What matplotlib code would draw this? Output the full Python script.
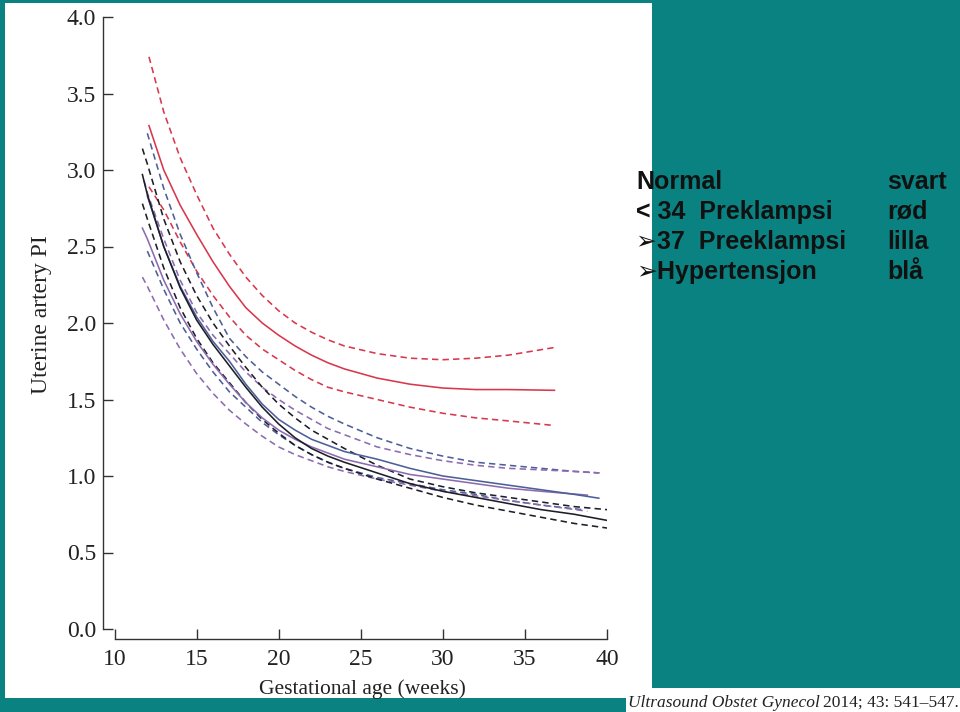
import matplotlib
matplotlib.use('Agg')
import matplotlib.pyplot as plt
from matplotlib.patches import Rectangle

# Normal (black)
normal_wk = [11.7, 12, 13, 14, 15, 16, 17, 18, 19, 20, 21, 22, 23, 24, 26, 28, 30, 32, 34, 36, 38, 40]
normal_mid = [2.97, 2.84, 2.50, 2.23, 2.02, 1.86, 1.72, 1.58, 1.45, 1.34, 1.25, 1.18, 1.13, 1.09, 1.02, 0.95, 0.90, 0.86, 0.82, 0.78, 0.75, 0.71]
normal_hi = [3.14, 3.04, 2.68, 2.40, 2.18, 2.00, 1.85, 1.71, 1.58, 1.47, 1.38, 1.30, 1.24, 1.18, 1.07, 0.98, 0.93, 0.89, 0.86, 0.83, 0.80, 0.78]
normal_lo = [2.78, 2.68, 2.36, 2.10, 1.90, 1.74, 1.61, 1.48, 1.37, 1.28, 1.20, 1.14, 1.09, 1.05, 0.98, 0.92, 0.86, 0.81, 0.77, 0.73, 0.69, 0.66]

# < 34 preeclampsia (red)
early_wk = [12.1, 13, 14, 15, 16, 17, 18, 19, 20, 21, 22, 23, 24, 26, 28, 30, 32, 34, 36.8]
early_mid = [3.29, 3.00, 2.77, 2.58, 2.40, 2.24, 2.10, 2.00, 1.92, 1.85, 1.79, 1.74, 1.70, 1.64, 1.60, 1.575, 1.565, 1.565, 1.56]
early_hi = [3.74, 3.38, 3.08, 2.84, 2.62, 2.45, 2.30, 2.18, 2.08, 2.00, 1.94, 1.89, 1.85, 1.80, 1.77, 1.76, 1.77, 1.79, 1.84]
early_lo = [2.89, 2.74, 2.53, 2.34, 2.18, 2.04, 1.92, 1.83, 1.76, 1.69, 1.63, 1.58, 1.55, 1.50, 1.45, 1.41, 1.38, 1.36, 1.33]

# >= 37 preeclampsia (purple)
late_wk = [11.7, 12, 13, 14, 15, 16, 17, 18, 19, 20, 21, 22, 23, 24, 26, 28, 30, 32, 34, 36, 38.8]
late_mid = [2.62, 2.55, 2.28, 2.06, 1.88, 1.73, 1.60, 1.48, 1.38, 1.30, 1.24, 1.19, 1.15, 1.11, 1.06, 1.01, 0.98, 0.95, 0.92, 0.90, 0.875]
late_lo = [2.30, 2.24, 2.02, 1.83, 1.67, 1.54, 1.43, 1.34, 1.26, 1.19, 1.14, 1.10, 1.06, 1.03, 0.98, 0.94, 0.90, 0.87, 0.84, 0.81, 0.77]
late_hi_wk = [11.8, 12, 13, 14, 15, 16, 17, 18, 19, 20, 21, 22, 23, 24, 26, 28, 30, 32, 34, 36, 38, 39.6]
late_hi = [2.93, 2.85, 2.55, 2.28, 2.07, 1.92, 1.80, 1.68, 1.58, 1.50, 1.43, 1.37, 1.31, 1.27, 1.19, 1.14, 1.10, 1.07, 1.05, 1.04, 1.03, 1.02]

# Hypertension (blue)
ht_wk = [12, 13, 14, 15, 16, 17, 18, 19, 20, 21, 22, 23, 24, 26, 28, 30, 32, 34, 36, 38, 39.5]
ht_mid = [2.83, 2.50, 2.24, 2.04, 1.88, 1.75, 1.60, 1.47, 1.37, 1.30, 1.24, 1.20, 1.16, 1.11, 1.05, 1.00, 0.97, 0.94, 0.91, 0.88, 0.855]
ht_hi = [3.24, 2.88, 2.58, 2.33, 2.10, 1.90, 1.78, 1.68, 1.60, 1.52, 1.45, 1.39, 1.34, 1.25, 1.18, 1.13, 1.09, 1.07, 1.05, 1.03, 1.02]
ht_lo_wk = [12, 13, 14, 15, 16, 17, 18, 19, 20, 21, 22, 23, 24, 26, 28, 30, 32, 34, 36, 38.5]
ht_lo = [2.47, 2.22, 2.00, 1.83, 1.68, 1.55, 1.45, 1.35, 1.27, 1.20, 1.14, 1.09, 1.05, 0.99, 0.95, 0.91, 0.88, 0.84, 0.81, 0.78]

legend_left = ["Normal", "< 34  Preklampsi", "\u27a237  Preeklampsi", "\u27a2Hypertensjon"]
legend_right = ["svart", "r\u00f8d", "lilla", "bl\u00e5"]

teal = '#0b8282'
red = '#d8374c'
blue = '#4d5f98'
purple = '#8d6bb0'
black = '#1e1e28'

W, H = 960, 712
fig = plt.figure(figsize=(9.6, 7.12), dpi=100)
fig.patch.set_facecolor(teal)
# white slide panel and citation box
fig.patches.append(Rectangle((5 / W, 1 - 698 / H), 647 / W, 695 / H, transform=fig.transFigure,
                             facecolor='white', edgecolor='none', zorder=-5))
fig.patches.append(Rectangle((626 / W, 0), 334 / W, 24 / H, transform=fig.transFigure,
                             facecolor='white', edgecolor='none', zorder=-5))

ax = fig.add_axes([114.5 / W, 1 - 629 / H, (607 - 114.5) / W, (629 - 17) / H])
ax.set_facecolor('none')
ax.set_zorder(2)

dash = (4, 2.6)
lw = 1.15
ax.plot(early_wk, early_hi, color=red, lw=lw, dashes=dash)
ax.plot(early_wk, early_mid, color=red, lw=lw)
ax.plot(early_wk, early_lo, color=red, lw=lw, dashes=dash)
ax.plot(ht_wk, ht_hi, color=blue, lw=lw, dashes=dash)
ax.plot(ht_lo_wk, ht_lo, color=blue, lw=lw, dashes=dash)
ax.plot(late_hi_wk, late_hi, color=purple, lw=lw, dashes=dash)
ax.plot(late_wk, late_lo, color=purple, lw=lw, dashes=dash)
ax.plot(normal_wk, normal_hi, color=black, lw=lw, dashes=dash)
ax.plot(normal_wk, normal_lo, color=black, lw=lw, dashes=dash)
ax.plot(late_wk, late_mid, color=purple, lw=lw)
ax.plot(ht_wk, ht_mid, color=blue, lw=lw)
ax.plot(normal_wk, normal_mid, color=black, lw=lw)

ax.set_xlim(10, 40)
ax.set_ylim(0, 4)
ax.set_xticks(range(10, 41, 5))
ax.set_yticks([i * 0.5 for i in range(9)])
ax.set_yticklabels(['%.1f' % (i * 0.5) for i in range(9)])

for s in ['top', 'right']:
    ax.spines[s].set_visible(False)
ax.spines['left'].set_position(('outward', 8.3))
ax.spines['bottom'].set_position(('outward', 7.2))
ax.spines['left'].set_bounds(0, 4)
ax.spines['bottom'].set_bounds(10, 40)
for s in ['left', 'bottom']:
    ax.spines[s].set_color('#333333')
    ax.spines[s].set_linewidth(1.0)

serif = ['Liberation Serif', 'DejaVu Serif']
ax.tick_params(direction='in', length=7, width=1.0, color='#333333', labelcolor='#222222')
ax.tick_params(axis='y', pad=5)
ax.tick_params(axis='x', pad=7)
for lab in ax.get_xticklabels() + ax.get_yticklabels():
    lab.set_family(serif)
    lab.set_fontsize(17)

fig.text(362 / W, 1 - 689 / H, "Gestational age (weeks)", family=serif, fontsize=15.5,
         color='#222222', ha='center', va='center')
fig.text(42 / W, 1 - 315 / H, "Uterine artery PI", family=serif, fontsize=17,
         color='#222222', ha='center', va='center', rotation=90)

sans = ['Liberation Sans', 'DejaVu Sans']
for i, (a, b) in enumerate(zip(legend_left, legend_right)):
    y = 1 - (182 + 30 * i) / H
    fig.text(636 / W, y, a, family=sans, fontweight='bold', fontsize=18,
             color='#111111', ha='left', va='center')
    fig.text(887 / W, y, b, family=sans, fontweight='bold', fontsize=18,
             color='#111111', ha='left', va='center')

fig.text(628 / W, 1 - 703 / H, "Ultrasound Obstet Gynecol", family=serif, style='italic',
         fontsize=12.5, color='#222222', ha='left', va='center')
fig.text(823 / W, 1 - 703 / H, "2014; 43: 541\u2013547.", family=serif,
         fontsize=12.5, color='#222222', ha='left', va='center')

fig.savefig('out.png', dpi=100, facecolor=fig.get_facecolor())
